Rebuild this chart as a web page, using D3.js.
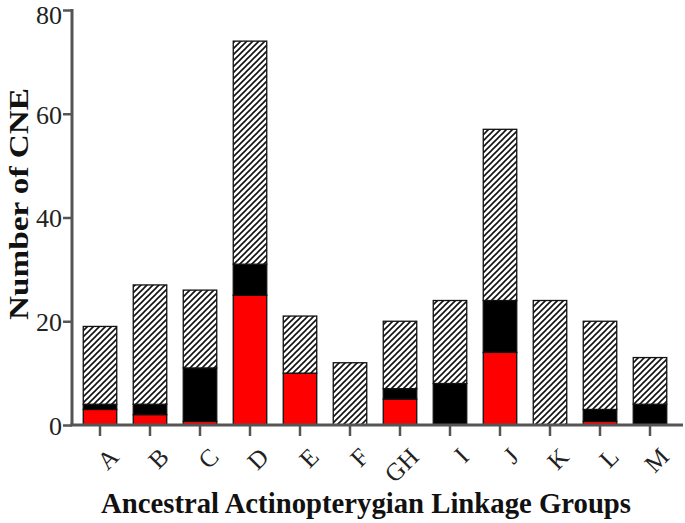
<!DOCTYPE html>
<html><head><meta charset="utf-8">
<script src="https://cdn.jsdelivr.net/npm/d3@7"></script>
<style>body{margin:0;background:#fff}svg{display:block}</style>
</head><body>
<svg id="c" width="685" height="523"></svg>
<script>
const categories = ["A","B","C","D","E","F","GH","I","J","K","L","M"];
const redValues   = [3, 2, 0.7, 25, 10, 0, 5, 0, 14, 0, 0.7, 0];
const blackValues = [1, 2, 10.3, 6, 0, 0, 2, 8, 10, 0, 2.3, 4];
const totals      = [19, 27, 26, 74, 21, 12, 20, 24, 57, 24, 20, 13];
const yTicks = [0, 20, 40, 60, 80];

const svg = d3.select("#c");
const defs = svg.append("defs");
const pat = defs.append("pattern").attr("id","hatch").attr("patternUnits","userSpaceOnUse")
  .attr("width",6).attr("height",6);
pat.append("rect").attr("width",6).attr("height",6).attr("fill","#fff");
pat.append("path").attr("d","M-1,1 l2,-2 M0,6 l6,-6 M5,7 l2,-2")
  .attr("stroke","#111").attr("stroke-width",1.6);

const x = d3.scaleBand().domain(categories).range([75,675]).paddingInner(0.33).paddingOuter(0.165);
const y = d3.scaleLinear().domain([0,80]).range([425,10]);

const rows = categories.map((c,i)=>({c, r:redValues[i], b:blackValues[i], h:totals[i]-redValues[i]-blackValues[i]}));

const g = svg.append("g");
rows.forEach(d=>{
  const segs = [
    {y0:0, y1:d.r, fill:"#ff0000"},
    {y0:d.r, y1:d.r+d.b, fill:"#000"},
    {y0:d.r+d.b, y1:d.r+d.b+d.h, fill:"url(#hatch)"}
  ].filter(s=>s.y1>s.y0);
  segs.forEach(s=>{
    g.append("rect").attr("x",x(d.c)).attr("width",x.bandwidth())
      .attr("y",y(s.y1)).attr("height",y(s.y0)-y(s.y1))
      .attr("fill",s.fill).attr("stroke","#111").attr("stroke-width",1.3);
  });
});

// y axis
const yAxis = svg.append("g").attr("transform","translate(72,0)")
  .call(d3.axisLeft(y).tickValues(yTicks).tickSize(9).tickPadding(1));
yAxis.select(".domain").attr("stroke","#555").attr("stroke-width",3).attr("d","M0,9V426");
yAxis.selectAll(".tick line").attr("stroke","#555").attr("stroke-width",2.5);
yAxis.selectAll(".tick text").attr("font-family","Liberation Serif").attr("font-size",26)
  .attr("fill","#222").attr("dy","0.36em");
yAxis.selectAll(".tick").filter(d=>d===80).select("text").attr("dy","0.5em");

// x axis
const xAxis = svg.append("g").attr("transform","translate(0,425)")
  .call(d3.axisBottom(x).tickSize(11).tickFormat(""));
xAxis.select(".domain").attr("stroke","#555").attr("stroke-width",3).attr("d","M70,0H683");
xAxis.selectAll(".tick line").attr("stroke","#555").attr("stroke-width",2.5);

svg.append("g").selectAll("text").data(categories).join("text")
  .attr("transform",d=>`translate(${x(d)+x.bandwidth()/2+8},446) rotate(-45)`)
  .attr("text-anchor","end").attr("dy","0.7em")
  .attr("font-family","Liberation Serif").attr("font-size",25).attr("fill","#222")
  .text(d=>d);

svg.append("text").attr("transform","translate(28,204) rotate(-90)")
  .attr("text-anchor","middle").attr("font-family","Liberation Serif").attr("font-weight","bold")
  .attr("font-size",27).attr("textLength",232).attr("lengthAdjust","spacingAndGlyphs")
  .attr("fill","#111").text("Number of CNE");

svg.append("text").attr("x",366).attr("y",513)
  .attr("text-anchor","middle").attr("font-family","Liberation Serif").attr("font-weight","bold")
  .attr("font-size",30).attr("textLength",530).attr("lengthAdjust","spacingAndGlyphs")
  .attr("fill","#111").text("Ancestral Actinopterygian Linkage Groups");
</script>
</body></html>
